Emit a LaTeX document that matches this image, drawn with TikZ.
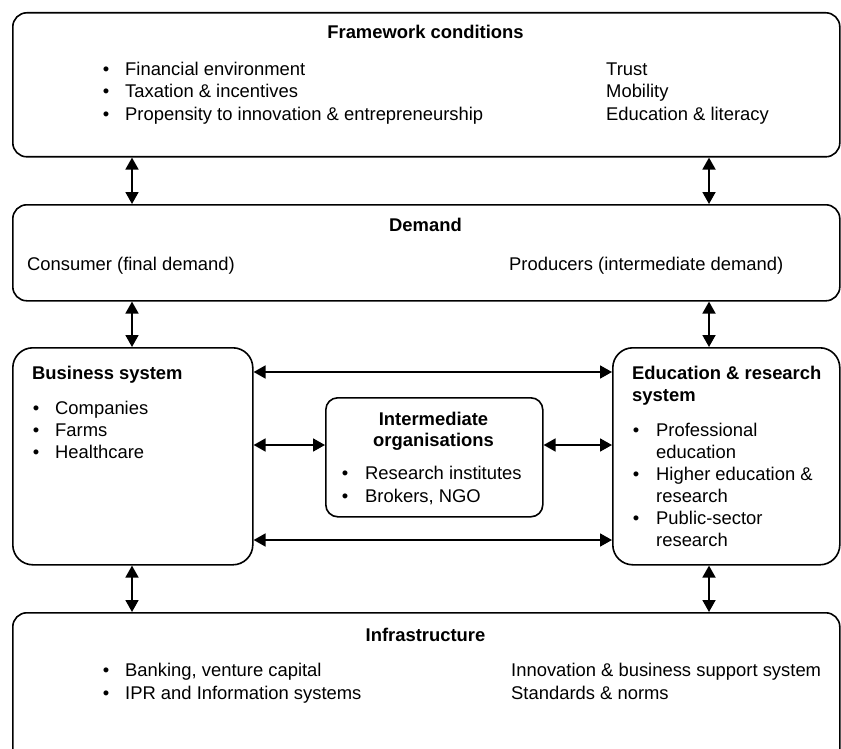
\documentclass[tikz,border=0pt]{standalone}
\usepackage{fontspec}
\setmainfont{Liberation Sans}
\usetikzlibrary{arrows.meta}
\newcommand\myfs{\fontsize{18.4}{22.5}\selectfont}
\begin{document}
\begin{tikzpicture}[x=1pt,y=-1pt,
  box/.style={draw, line width=1.6pt, inner sep=0pt, anchor=north west},
  arr/.style={line width=1.8pt, {Triangle[length=12pt,width=13pt]}-{Triangle[length=12pt,width=13pt]}},
  txt/.style={anchor=base west, inner sep=0pt, font=\myfs},
  ttl/.style={anchor=base, inner sep=0pt, font=\myfs\bfseries},
  ttlw/.style={anchor=base west, inner sep=0pt, font=\myfs\bfseries},
  bul/.style={anchor=base, inner sep=0pt, font=\myfs}]
\useasboundingbox (0,0) rectangle (841,749);
\clip (0,0) rectangle (841,749);
% boxes
\node[box, rounded corners=14pt, minimum width=827pt, minimum height=144pt] (fw) at (12,12) {};
\node[box, rounded corners=14pt, minimum width=827pt, minimum height=96pt] (dem) at (12,204) {};
\node[box, rounded corners=20pt, minimum width=240pt, minimum height=217pt] (bus) at (12,347) {};
\node[box, rounded corners=20pt, minimum width=227pt, minimum height=217pt] (edu) at (612,347) {};
\node[box, rounded corners=12pt, minimum width=217pt, minimum height=119pt] (int) at (325,397) {};
\node[box, rounded corners=14pt, minimum width=827pt, minimum height=170pt] (inf) at (12,612) {};
% helper coordinates
\coordinate (ax1) at (132,0);
\coordinate (ax2) at (709,0);
\coordinate (ay1) at (0,372);
\coordinate (ay2) at (0,445);
\coordinate (ay3) at (0,540);
% vertical arrows
\draw[arr] (fw.south -| ax1) -- (dem.north -| ax1);
\draw[arr] (fw.south -| ax2) -- (dem.north -| ax2);
\draw[arr] (dem.south -| ax1) -- (bus.north -| ax1);
\draw[arr] (dem.south -| ax2) -- (edu.north -| ax2);
\draw[arr] (bus.south -| ax1) -- (inf.north -| ax1);
\draw[arr] (edu.south -| ax2) -- (inf.north -| ax2);
% horizontal arrows
\draw[arr] (bus.east |- ay1) -- (edu.west |- ay1);
\draw[arr] (bus.east |- ay2) -- (int.west |- ay2);
\draw[arr] (int.east |- ay2) -- (edu.west |- ay2);
\draw[arr] (bus.east |- ay3) -- (edu.west |- ay3);
% framework conditions
\node[ttl] (fwt) at (425.5,39) {Framework conditions};
\node[bul] (fwb1) at (106,76) {•};
\node[bul] (fwb2) at (106,98) {•};
\node[bul] (fwb3) at (106,121) {•};
\node[txt] (fw1) at (125,76) {Financial environment};
\node[txt] (fw2) at (125,98) {Taxation \& incentives};
\node[txt] (fw3) at (125,121) {Propensity to innovation \& entrepreneurship};
\node[txt] (fwr1) at (606,76) {Trust};
\node[txt] (fwr2) at (606,98) {Mobility};
\node[txt] (fwr3) at (606,121) {Education \& literacy};
% demand
\node[ttl] (demt) at (425.5,231) {Demand};
\node[txt] (dem1) at (27,270) {Consumer (final demand)};
\node[txt] (dem2) at (509,270) {Producers (intermediate demand)};
% business
\node[ttlw] (bust) at (32,379) {Business system};
\node[bul] (busb1) at (36,414) {•};
\node[bul] (busb2) at (36,436) {•};
\node[bul] (busb3) at (36,458) {•};
\node[txt] (bus1) at (55,414) {Companies};
\node[txt] (bus2) at (55,436) {Farms};
\node[txt] (bus3) at (55,458) {Healthcare};
% education
\node[ttlw] (edut1) at (632,379) {Education \& research};
\node[ttlw] (edut2) at (632,401) {system};
\node[bul] (edub1) at (636,436) {•};
\node[bul] (edub2) at (636,480) {•};
\node[bul] (edub3) at (636,524) {•};
\node[txt] (edu1) at (656,436) {Professional};
\node[txt] (edu2) at (656,458) {education};
\node[txt] (edu3) at (656,480) {Higher education \&};
\node[txt] (edu4) at (656,502) {research};
\node[txt] (edu5) at (656,524) {Public-sector};
\node[txt] (edu6) at (656,546) {research};
% intermediate
\node[ttl] (intt1) at (433.5,425) {Intermediate};
\node[ttl] (intt2) at (433.5,446) {organisations};
\node[bul] (intb1) at (345,479) {•};
\node[bul] (intb2) at (345,502) {•};
\node[txt] (int1) at (365,479) {Research institutes};
\node[txt] (int2) at (365,502) {Brokers, NGO};
% infrastructure
\node[ttl] (inft) at (425.5,641) {Infrastructure};
\node[bul] (infb1) at (106,676) {•};
\node[bul] (infb2) at (106,699) {•};
\node[txt] (inf1) at (125,676) {Banking, venture capital};
\node[txt] (inf2) at (125,699) {IPR and Information systems};
\node[txt] (infr1) at (511,676) {Innovation \& business support system};
\node[txt] (infr2) at (511,699) {Standards \& norms};
\end{tikzpicture}
\end{document}
